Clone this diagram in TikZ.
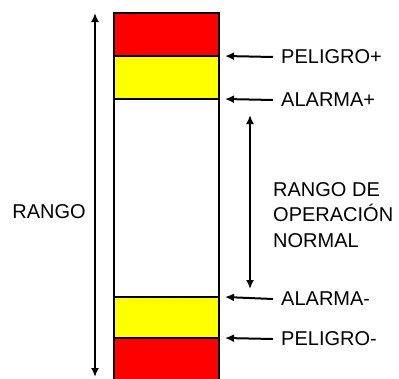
\documentclass[tikz,border=0pt]{standalone}
\usepackage{fontspec}
\setmainfont{Liberation Sans}
\usetikzlibrary{arrows.meta}
\definecolor{rojo}{RGB}{255,0,0}
\definecolor{amarillo}{RGB}{255,255,0}
\tikzset{
  band/.style={draw=black, line width=2.6pt},
  arr/.style={line width=2pt, -{Latex[length=9pt,width=8pt]}},
  darr/.style={line width=2pt, {Latex[length=9pt,width=8pt]}-{Latex[length=9pt,width=8pt]}},
  lbl/.style={anchor=west, inner sep=0pt, font=\fontsize{20}{24}\selectfont},
}
\begin{document}
\begin{tikzpicture}[x=1pt,y=-1pt]
\useasboundingbox (0,0) rectangle (399,378);
% bands
\fill[rojo] (114,13) rectangle (219,56);
\fill[amarillo] (114,56) rectangle (219,99);
\fill[amarillo] (114,297) rectangle (219,338);
\fill[rojo] (114,338) rectangle (219,380);
\draw[band] (114,382) -- (114,13) -- (219,13) -- (219,382);
\draw[band] (114,56) -- (219,56);
\draw[band] (114,99) -- (219,99);
\draw[band] (114,297) -- (219,297);
\draw[band] (114,338) -- (219,338);
% boundary coordinates
\coordinate (b1) at (225,56);
\coordinate (b2) at (225,99);
\coordinate (b3) at (225,297);
\coordinate (b4) at (225,338);
% labels
\node[lbl] (l1) at (281,57) {PELIGRO+};
\node[lbl] (l2) at (281,100) {ALARMA+};
\node[lbl] (l3) at (281,299) {ALARMA-};
\node[lbl] (l4) at (281,339) {PELIGRO-};
\draw[arr] ([xshift=-8pt]l1.west) -- (b1);
\draw[arr] ([xshift=-8pt]l2.west) -- (b2);
\draw[arr] ([xshift=-8pt]l3.west) -- (b3);
\draw[arr] ([xshift=-8pt]l4.west) -- (b4);
% range
\coordinate (rt) at (95,13);
\coordinate (rb) at (95,377);
\draw[darr] (rt) -- (rb);
\node[font=\fontsize{20}{24}\selectfont, inner sep=0pt] (rango) at (49,212) {RANGO};
% normal operation
\coordinate (nt) at (250,115);
\coordinate (nb) at (250,289);
\draw[darr] (nt) -- (nb);
\node[lbl, align=left, font=\fontsize{20}{25.5}\selectfont] (op) at (273,215) {RANGO DE\\OPERACIÓN\\NORMAL};
\end{tikzpicture}
\end{document}
